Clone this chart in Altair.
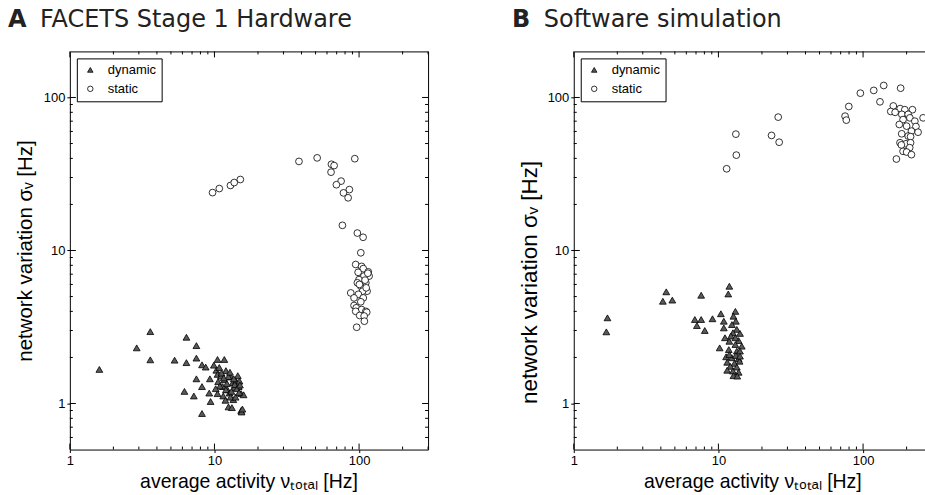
import altair as alt
import pandas as pd

# ---------------- data ----------------
A_DYN_X = [1.6, 2.9, 3.6, 3.6, 5.3, 6.4, 6.4, 7.5, 7.5, 8.2, 8.7, 6.2, 7.2, 7.5, 8.2, 8.2,
           9.3, 9.2, 9.4, 9.9, 10.5, 11.7, 10.3, 10.5, 12.0, 10.6, 11.4, 10.5, 11.5, 12.3,
           13.4, 13.0, 14.5, 14.7, 15.3, 15.9, 13.5, 12.5, 13.2, 15.3, 15.4, 12.7, 13.7,
           11.7, 11.1, 12.0, 14.1, 14.9, 10.8, 11.2, 12.5, 13.8, 14.3, 12.9, 11.9, 10.9,
           13.1, 14.0, 15.0, 12.2, 11.6, 13.6, 14.8, 10.2, 12.8, 15.6]
A_DYN_Y = [1.67, 2.31, 2.95, 1.93, 1.92, 2.71, 1.85, 2.39, 1.98, 1.79, 1.73, 1.20, 1.12,
           1.45, 1.29, 0.86, 1.45, 1.17, 1.03, 1.78, 1.94, 1.94, 1.65, 1.55, 1.64, 1.39,
           1.29, 1.16, 1.12, 1.23, 1.37, 1.49, 1.52, 1.29, 1.16, 1.14, 1.06, 0.95, 0.94,
           0.90, 0.88, 1.17, 1.27, 1.43, 1.51, 1.23, 1.40, 1.40, 1.72, 1.58, 1.50, 1.33,
           1.25, 1.10, 1.05, 1.30, 1.20, 1.10, 1.32, 1.35, 1.47, 1.45, 1.18, 1.25, 1.60, 0.92]

A_STA_X = [9.7, 10.8, 12.9, 13.7, 15.1, 38.4, 51.3, 64.4, 67.2, 64.0, 93.4, 75.1, 69.7,
           85.7, 78.0, 84.0, 76.7, 97.3, 106.6, 102.8,
           94.8, 104.1, 106.9, 115.8, 98.5, 117.3, 108.0, 99.9, 111.3, 97.3, 102.8, 113.6,
           105.8, 87.6, 98.9, 92.3, 106.9, 102.8, 92.3, 95.6, 104.1, 111.3, 94.8, 113.0,
           101.0, 108.4, 108.8, 96.3, 100.5, 110.0, 112.0, 115.0]
A_STA_Y = [23.9, 25.4, 26.6, 27.8, 29.1, 38.2, 40.3, 36.6, 35.9, 32.5, 39.8, 28.4, 26.9,
           25.0, 23.8, 22.1, 14.6, 13.0, 12.2, 9.66,
           8.1, 7.87, 7.61, 7.25, 7.2, 6.8, 6.8, 6.45, 6.15, 6.15, 5.84, 5.42, 5.42, 5.28,
           5.17, 4.9, 4.9, 4.62, 4.37, 4.22, 4.11, 4.0, 4.0, 3.95, 3.76, 3.73, 3.45, 3.15,
           6.0, 6.4, 5.7, 7.1]

B_DYN_X = [1.71, 1.68, 4.36, 4.13, 4.80, 7.6, 11.9, 11.7, 6.87, 7.6, 7.1, 8.05, 9.1, 10.4,
           10.9, 10.9, 13.1, 12.7, 13.2, 12.4, 13.4, 12.6, 14.1, 11.1, 11.9, 13.8, 13.1,
           14.5, 10.2, 11.8, 13.4, 14.1, 11.3, 12.4, 13.8, 11.5, 12.9, 14.0, 12.1, 13.4,
           11.5, 12.6, 13.8, 12.7, 13.5, 12.2, 13.1, 11.9, 13.2, 14.1]
B_DYN_Y = [3.63, 2.94, 5.37, 4.66, 4.74, 5.1, 5.84, 5.2, 3.54, 3.54, 3.23, 3.0, 3.58, 3.86,
           3.45, 3.12, 4.0, 3.72, 3.45, 3.28, 3.05, 2.9, 2.87, 2.69, 2.55, 2.58, 2.43, 2.37,
           2.31, 2.25, 2.2, 2.2, 2.02, 1.99, 1.96, 1.86, 1.83, 1.89, 1.75, 1.73, 1.65, 1.63,
           1.60, 1.52, 1.51, 2.76, 2.69, 2.09, 2.06, 2.04]

B_STA_X = [11.4, 13.3, 13.2, 25.9, 23.3, 26.3, 79.7, 75.1, 76.6, 95.8, 118.5, 138.9, 130.9,
           181.9, 260.0,
           161.8, 180.4, 194.3, 219.5, 155.4, 166.6, 185.3, 205.0, 210.6, 228.0, 189.0,
           178.0, 200.0, 232.0, 216.0, 240.0, 185.0, 205.0, 213.0, 180.0, 198.0, 213.0,
           210.0, 189.0, 200.0, 216.0, 170.0, 184.0]
B_STA_Y = [34.2, 42.0, 57.6, 74.4, 56.5, 51.0, 87.3, 75.5, 71.1, 106.7, 111.2, 119.8, 93.7,
           115.0, 73.6,
           88.0, 84.6, 83.2, 83.2, 81.0, 80.0, 77.6, 77.6, 73.6, 70.0, 71.7, 66.6, 65.0,
           64.6, 60.3, 59.3, 57.9, 56.0, 55.5, 50.6, 49.8, 50.6, 47.0, 44.5, 44.0, 42.3,
           39.6, 49.0]

CATEGORIES = ["dynamic", "static"]
X_TICKS_MAJOR = [1, 10, 100]
X_TICKS_MINOR = [2, 3, 4, 5, 6, 7, 8, 9, 20, 30, 40, 50, 60, 70, 80, 90, 200, 300]
Y_TICKS_MAJOR = [1, 10, 100]
Y_TICKS_MINOR = [0.6, 0.7, 0.8, 0.9, 2, 3, 4, 5, 6, 7, 8, 9, 20, 30, 40, 50, 60, 70, 80, 90]

TITLE_LETTERS = ["A", "B"]
TITLE_TEXTS = ["FACETS Stage 1 Hardware", "Software simulation"]
X_TITLE = "average activity νₜₒₜₐₗ [Hz]"
Y_TITLE = "network variation σᵥ [Hz]"

# ---------------- layout / style ----------------
H = 399
LABEL_FONT = "Liberation Sans"
HEAD_FONT = "DejaVu Sans"
MAJ, MIN = 6, 3


def panel(dx, dy, sx, sy, xdom, W, letter, text, right_border, ytitle_size, ytitle_y, clip):
    df = pd.DataFrame({
        "x": dx + sx,
        "y": dy + sy,
        "type": ["dynamic"] * len(dx) + ["static"] * len(sx),
    })
    xs = alt.Scale(type="log", domain=xdom, nice=False)
    ys = alt.Scale(type="log", domain=[0.5, 200], nice=False)
    leg = alt.Legend(title=None, orient="top-left", offset=7, padding=5,
                     strokeColor="black", fillColor="white", cornerRadius=0,
                     labelFont=LABEL_FONT, labelFontSize=13, labelColor="black",
                     labelExpr="datum.label + '\u00a0\u00a0'",
                     symbolSize=30, symbolStrokeWidth=0.8, rowPadding=5,
                     symbolOffset=2, labelOffset=11)
    pts = alt.Chart(df).mark_point(filled=True, strokeWidth=0.8,
                                   opacity=1, size=46, clip=clip).encode(
        x=alt.X("x:Q", scale=xs, axis=alt.Axis(
            orient="bottom", values=X_TICKS_MAJOR, format="d", tickSize=3,
            labelFlush=False, labelOverlap=False, labelFont=LABEL_FONT, labelFontSize=13,
            title=X_TITLE, titleFont=LABEL_FONT, titleFontSize=19.5, titleFontWeight="normal",
            titleX=179, titleY=32, titleAlign="center", titleBaseline="middle")),
        y=alt.Y("y:Q", scale=ys, axis=alt.Axis(
            orient="left", values=Y_TICKS_MAJOR, format="d", tickSize=3,
            labelFlush=False, labelOverlap=False, labelFont=LABEL_FONT, labelFontSize=13,
            title=Y_TITLE, titleFont=LABEL_FONT, titleFontSize=ytitle_size,
            titleFontWeight="normal", titleX=-44, titleY=ytitle_y, titleAngle=270,
            titleAlign="center", titleBaseline="middle")),
        shape=alt.Shape("type:N", scale=alt.Scale(domain=CATEGORIES,
                                                  range=["triangle-up", "circle"]),
                        legend=leg),
        fill=alt.Fill("type:N", scale=alt.Scale(domain=CATEGORIES,
                                                range=["#5a5a5a", "#ffffff"]),
                      legend=leg),
        stroke=alt.Stroke("type:N", scale=alt.Scale(domain=CATEGORIES,
                                                    range=["#000000", "#000000"]),
                          legend=leg),
    )

    def tdf(vals, lo, hi):
        return pd.DataFrame({"v": [v for v in vals if lo <= v <= hi]})

    xmaj = tdf(X_TICKS_MAJOR, *xdom)
    xmin = tdf(X_TICKS_MINOR, *xdom)
    ymaj = tdf(Y_TICKS_MAJOR, 0.5, 200)
    ymin = tdf(Y_TICKS_MINOR, 0.5, 200)
    rule = dict(color="black", strokeWidth=1)

    layers = [pts]
    for d, L in ((xmaj, MAJ), (xmin, MIN)):
        layers.append(alt.Chart(d).mark_rule(**rule).encode(
            x=alt.X("v:Q", scale=xs, axis=None), y=alt.value(H), y2=alt.value(H - L)))
    for i, (d, L) in enumerate(((xmaj, MAJ), (xmin, MIN))):
        ax = alt.Axis(orient="top", labels=False, ticks=False, title=None,
                      domainColor="black", grid=False) if i == 0 else None
        layers.append(alt.Chart(d).mark_rule(**rule).encode(
            x=alt.X("v:Q", scale=xs, axis=ax), y=alt.value(0), y2=alt.value(L)))
    for d, L in ((ymaj, MAJ), (ymin, MIN)):
        layers.append(alt.Chart(d).mark_rule(**rule).encode(
            y=alt.Y("v:Q", scale=ys, axis=None), x=alt.value(0), x2=alt.value(L)))
    if right_border:
        for i, (d, L) in enumerate(((ymaj, MAJ), (ymin, MIN))):
            ax = alt.Axis(orient="right", labels=False, ticks=False, title=None,
                          domainColor="black", grid=False) if i == 0 else None
            layers.append(alt.Chart(d).mark_rule(**rule).encode(
                y=alt.Y("v:Q", scale=ys, axis=ax), x=alt.value(W), x2=alt.value(W - L)))
    head = pd.DataFrame({"letter": [letter], "text": [text]})
    layers.append(alt.Chart(head).mark_text(
        font=HEAD_FONT, fontSize=24, fontWeight="bold", align="left", baseline="top",
        color="#222222").encode(text="letter:N", x=alt.value(-62), y=alt.value(-43)))
    layers.append(alt.Chart(head).mark_text(
        font=HEAD_FONT, fontSize=24, fontWeight="normal", align="left", baseline="top",
        color="#222222").encode(text="text:N", x=alt.value(-30), y=alt.value(-43)))

    return alt.layer(*layers).resolve_axis(x="independent", y="independent").properties(
        width=W, height=H)


pa = panel(A_DYN_X, A_DYN_Y, A_STA_X, A_STA_Y, [1, 300], 359,
           TITLE_LETTERS[0], TITLE_TEXTS[0], True, 20.5, 199.5, False)
pb = panel(B_DYN_X, B_DYN_Y, B_STA_X, B_STA_Y, [1, 268], 352,
           TITLE_LETTERS[1], TITLE_TEXTS[1], False, 22.5, 231, True)

chart = alt.hconcat(pa, pb, spacing=83).resolve_scale(
    x="independent", y="independent", shape="independent", fill="independent",
    stroke="independent"
).resolve_legend(shape="independent", fill="independent", stroke="independent").properties(
    padding={"left": 8, "top": 8, "right": 0, "bottom": 0}
).configure_view(stroke=None).configure_axis(
    domainColor="black", tickColor="black", labelColor="black", titleColor="black", grid=False)

chart.save("out.html", embed_options={"renderer": "svg", "actions": False})
